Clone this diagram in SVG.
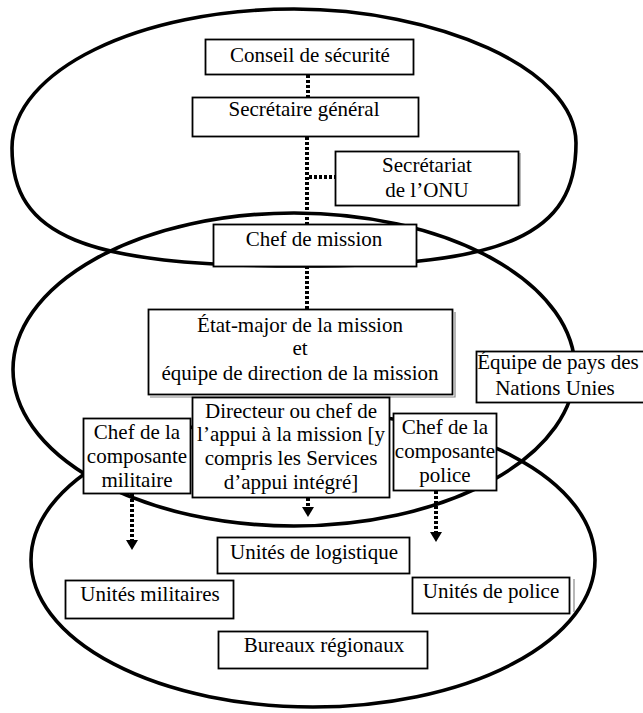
<svg xmlns="http://www.w3.org/2000/svg" width="643" height="713" viewBox="0 0 643 713">
<style>
.ring{fill:none;stroke:#000;stroke-width:3.6}
.box{fill:#fff;stroke:#000;stroke-width:1.8}
.sh{fill:none;stroke:#888;stroke-width:1.2}
.t{font-family:"Liberation Serif","Times New Roman",serif;font-size:21px;fill:#000;text-anchor:middle}
.dot{fill:none;stroke:#000;stroke-width:4;stroke-dasharray:3 2}
.ah{fill:#000}
</style>
<g id="rings">
<path class="ring" d="M 12,148 C 12,70 140,9 294,9 C 435,9 576,68 576,143 C 576,235 507,266 300,266 C 84,266 12,236 12,148 Z"/>
<ellipse class="ring" cx="294" cy="369.5" rx="281" ry="156.5"/>
<ellipse class="ring" cx="313" cy="560" rx="282" ry="147"/>
</g>
<g id="connectors">
<line class="dot" x1="308" y1="75" x2="308" y2="97"/>
<line class="dot" x1="307" y1="137" x2="307" y2="224"/>
<line class="dot" x1="309" y1="177" x2="335" y2="177"/>
<line class="dot" x1="307" y1="266" x2="307" y2="309"/>
<line class="dot" x1="132" y1="494" x2="132" y2="541"/>
<polygon class="ah" points="126,540 138,540 132,550"/>
<line class="dot" x1="308" y1="498" x2="308" y2="508"/>
<polygon class="ah" points="302,507 314,507 308,517"/>
<line class="dot" x1="436" y1="491" x2="436" y2="533"/>
<polygon class="ah" points="430,532 442,532 436,542"/>
</g>
<g id="conseil">
<rect class="box" x="205.5" y="39.5" width="208" height="35"/>
<text class="t" x="310" y="62">Conseil de sécurité</text>
</g>
<g id="secretaire">
<rect class="box" x="192.5" y="97.5" width="226" height="39"/>
<text class="t" x="304" y="116">Secrétaire général</text>
</g>
<g id="secretariat">
<line class="sh" x1="520" y1="153" x2="520" y2="206"/>
<rect class="box" x="335.5" y="151.5" width="183" height="54"/>
<text class="t" x="427" y="172">Secrétariat</text>
<text class="t" x="427" y="197">de l’ONU</text>
</g>
<g id="chef-mission">
<rect class="box" x="213.5" y="224.5" width="203" height="42"/>
<text class="t" x="314" y="246">Chef de mission</text>
</g>
<g id="etat-major">
<polyline class="sh" points="455,312 455,397 150,397"/>
<rect class="box" x="148.5" y="309.5" width="304" height="85"/>
<text class="t" x="300" y="332">État-major de la mission</text>
<text class="t" x="300" y="355">et</text>
<text class="t" x="300" y="380">équipe de direction de la mission</text>
</g>
<g id="equipe-pays">
<rect class="box" x="476.5" y="351.5" width="180" height="51"/>
<text class="t" x="558" y="369">Équipe de pays des</text>
<text class="t" x="555" y="395">Nations Unies</text>
</g>
<g id="directeur">
<rect class="box" x="192.5" y="397.5" width="197" height="100"/>
<text class="t" x="291" y="418">Directeur ou chef de</text>
<text class="t" x="291" y="441">l’appui à la mission [y</text>
<text class="t" x="291" y="465">compris les Services</text>
<text class="t" x="291" y="489">d’appui intégré]</text>
</g>
<g id="chef-militaire">
<rect class="box" x="83.5" y="418.5" width="107" height="75"/>
<text class="t" x="137" y="439">Chef de la</text>
<text class="t" x="137" y="463">composante</text>
<text class="t" x="137" y="487">militaire</text>
</g>
<g id="chef-police">
<rect class="box" x="393.5" y="413.5" width="103" height="77"/>
<text class="t" x="445" y="434">Chef de la</text>
<text class="t" x="445" y="458">composante</text>
<text class="t" x="445" y="482">police</text>
</g>
<g id="logistique">
<rect class="box" x="217.5" y="537.5" width="192" height="36"/>
<text class="t" x="314" y="559">Unités de logistique</text>
</g>
<g id="militaires">
<rect class="box" x="65.5" y="580.5" width="168" height="38"/>
<text class="t" x="150" y="601">Unités militaires</text>
</g>
<g id="police">
<line class="sh" x1="574" y1="579" x2="574" y2="612"/>
<rect class="box" x="412.5" y="577.5" width="157" height="36"/>
<text class="t" x="491" y="598">Unités de police</text>
</g>
<g id="bureaux">
<rect class="box" x="218.5" y="631.5" width="209" height="37"/>
<text class="t" x="324" y="652">Bureaux régionaux</text>
</g>
</svg>
